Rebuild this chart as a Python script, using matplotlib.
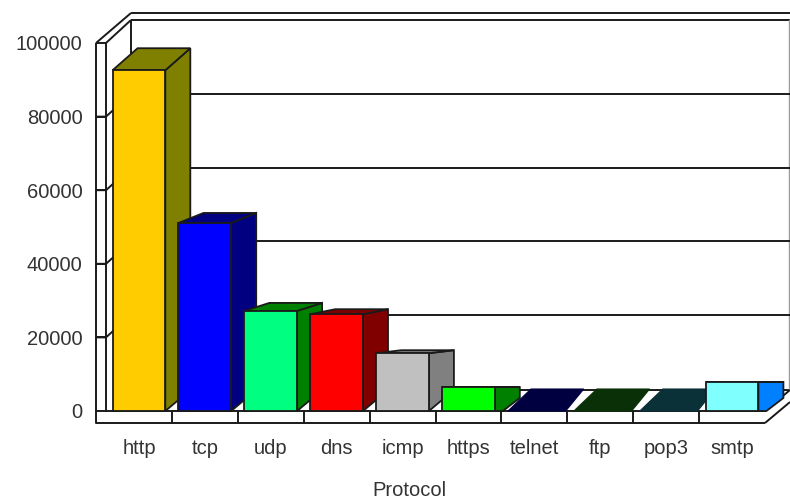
import matplotlib
matplotlib.use('Agg')
import matplotlib.pyplot as plt
from matplotlib.patches import Polygon

protocols = ['http', 'tcp', 'udp', 'dns', 'icmp', 'https', 'telnet', 'ftp', 'pop3', 'smtp']
packets = [92600, 51100, 27200, 26300, 15700, 6500, 0, 0, 0, 7900]
y_ticks = [0, 20000, 40000, 60000, 80000, 100000]

front_colors = ['#FFCC00', '#0000FF', '#00FF80', '#FF0000', '#C0C0C0',
                '#00FF00', '#000040', '#0A3008', '#0A3038', '#80FFFF']
side_colors = ['#808000', '#000080', '#008000', '#800000', '#808080',
               '#008000', '#000040', '#0A3008', '#0A3038', '#0080FF']

LINE = '#1a1a1a'
TEXT = '#333333'

plt.rcParams['font.family'] = ['Liberation Sans', 'DejaVu Sans']

fig = plt.figure(figsize=(7.9, 5.0), dpi=100)
# axes area is the front plane of the 3d box
ax = fig.add_axes([106 / 790, 1 - 411 / 500, 659 / 790, 368 / 500])
ax.set_xlim(0, 10)
ax.set_ylim(0, 100000)
ax.patch.set_alpha(0)
for s in ax.spines.values():
    s.set_visible(False)

# pixel sizes to axis units
sx = 10 / 659
sy = 100000 / 368


def line(xs, ys, lw=1.4, z=1):
    ax.plot([x * sx for x in xs], [y * sy for y in ys], color=LINE, lw=lw,
            clip_on=False, zorder=z, solid_capstyle='butt')


# box depth
dx, dy = 25, 21
grid_rise = 22.5

# left wall and floor front edges
line([-10, -10, 659], [368, -12, -12])
line([0, 0, 659], [368, 0, 0])
line([-10, 25], [368, 398])
line([0, 25], [368, 391])
# back wall
line([25, 25], [dy, 391])
line([25, 684], [391, 391])
line([25, 684], [398, 398])
line([25, 684], [dy, dy])
ax.plot([683 * sx, 683 * sx], [dy * sy, 391 * sy], color='#999999', lw=1.0, clip_on=False, zorder=1)
line([659, 684], [-12, 9])
line([659, 684], [0, dy])

for t in y_ticks[1:-1]:
    y = t / sy
    line([-10, 0, dx], [y, y, y + grid_rise])
    line([dx, 684], [y + grid_rise, y + grid_rise])
for t in y_ticks:
    line([-10, 0], [t / sy, t / sy])
for i in range(1, 10):
    line([i / sx, i / sx], [-12, 0])

# how far each bar's top runs back on screen
top_rise = [22, 10, 8, 5, 3, 0, 22, 22, 22, 0]

for i, v in enumerate(packets):
    x0 = i + 0.1
    x1 = i + 0.9
    bar_dx = dx * sx
    floor = dy * sy
    rise = top_rise[i] * sy
    if v > 0:
        # low bars with a flat top keep a short flat foot on the side face
        foot = 8 * sx if top_rise[i] == 0 else 0
        side = [(x1, 0), (x1 + foot, 0), (x1 + bar_dx, floor - foot / sx * sy),
                (x1 + bar_dx, v + rise), (x1, v)]
        top = [(x0, v), (x1, v), (x1 + bar_dx, v + rise), (x0 + bar_dx, v + rise)]
        ax.add_patch(Polygon(side, fc=side_colors[i], ec=LINE, lw=1.3, clip_on=False, zorder=3 + i))
        ax.add_patch(Polygon(top, fc=side_colors[i], ec=LINE, lw=1.3, clip_on=False, zorder=3 + i))
        ax.bar(x0, v, width=0.8, align='edge', color=front_colors[i], edgecolor=LINE,
               linewidth=1.3, clip_on=False, zorder=3.5 + i)
    else:
        # empty bars only show their floor patch, slightly wider at the front
        top = [(x0, v), (x1 + 5 * sx, v), (x1 + (dx - 2) * sx, v + rise), (x0 + (dx - 2) * sx, v + rise)]
        ax.add_patch(Polygon(top, fc=side_colors[i], ec=side_colors[i], lw=0.8, clip_on=False, zorder=3 + i))

ax.set_xticks([i + 0.5 for i in range(10)])
ax.set_xticklabels(protocols, fontsize=14.5, color=TEXT)
ax.set_yticks(y_ticks)
ax.set_yticklabels([str(t) for t in y_ticks], fontsize=14.5, color=TEXT)
ax.tick_params(axis='x', length=0, pad=20)
ax.tick_params(axis='y', length=0, pad=17)
ax.set_xlabel('Protocol', fontsize=14.5, color=TEXT, x=0.461, labelpad=17)

fig.savefig('out.png', dpi=100)
